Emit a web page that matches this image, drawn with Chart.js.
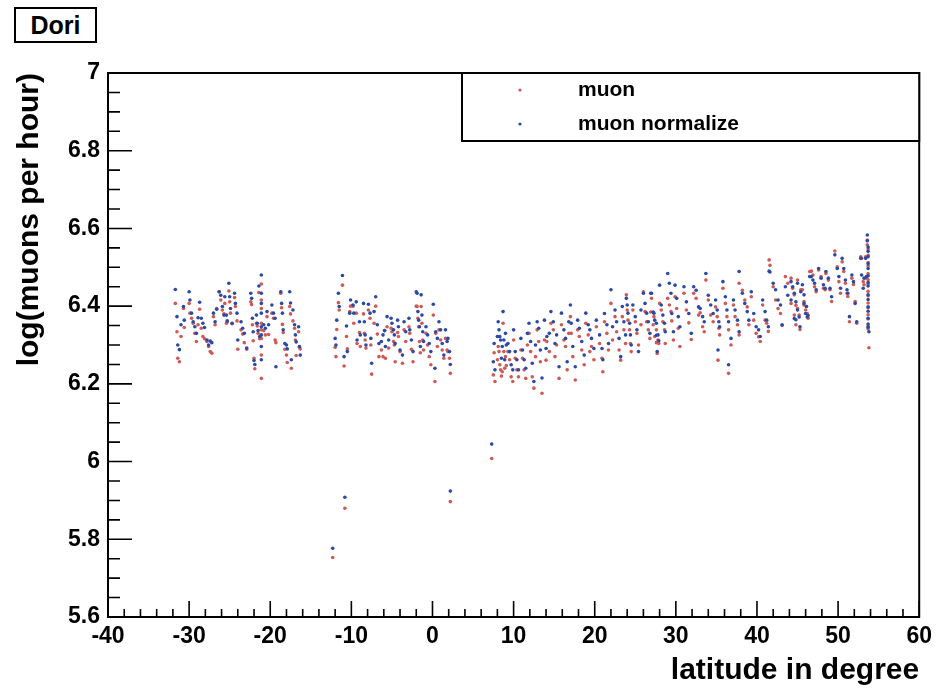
<!DOCTYPE html>
<html lang="en">
<head>
<meta charset="UTF-8">
<title>Dori - muons vs latitude</title>
<script src="https://cdn.jsdelivr.net/npm/chart.js@4.4.0/dist/chart.umd.min.js"></script>
<style>
    body { margin: 0; background: #fff; }
    #wrap { position: relative; width: 938px; height: 690px; }
    #dori {
        position: absolute; left: 14px; top: 7px; width: 79px; height: 32px;
        border: 2px solid #000; background: #fff;
        font: bold 25px "Liberation Sans", Arial, sans-serif;
        line-height: 32px; text-align: center; color: #000;
    }
</style>
</head>
<body>
<div id="wrap">
    <canvas id="chart"></canvas>
    <div id="dori">Dori</div>
</div>
<script>
// tick values for both axes
const xTicks = [-40, -30, -20, -10, 0, 10, 20, 30, 40, 50, 60];
const yTicks = [5.6, 5.8, 6.0, 6.2, 6.4, 6.6, 6.8, 7.0];

// rows: [latitude, log(muon), log(muon normalize)]
const southBand = [
    [-31.7, 6.407, 6.443], [-31.5, 6.334, 6.373], [-31.4, 6.266, 6.300], [-31.2, 6.257, 6.288],
    [-31.0, 6.322, 6.352], [-30.7, 6.394, 6.399], [-30.6, 6.345, 6.364], [-30.0, 6.407, 6.437],
    [-29.9, 6.382, 6.416], [-29.7, 6.369, 6.382], [-29.5, 6.356, 6.360], [-29.3, 6.330, 6.347],
    [-29.1, 6.309, 6.330], [-28.9, 6.352, 6.370], [-28.7, 6.392, 6.410], [-28.5, 6.343, 6.369],
    [-28.3, 6.322, 6.356], [-28.1, 6.316, 6.345], [-27.8, 6.309, 6.313], [-27.6, 6.296, 6.300],
    [-27.4, 6.283, 6.310], [-27.2, 6.279, 6.306], [-27.0, 6.373, 6.382], [-26.8, 6.352, 6.360],
    [-26.6, 6.394, 6.392], [-26.3, 6.437, 6.437], [-26.1, 6.416, 6.428], [-25.9, 6.390, 6.399],
    [-25.7, 6.380, 6.377], [-25.6, 6.407, 6.424], [-25.4, 6.356, 6.377], [-25.3, 6.360, 6.362],
    [-25.1, 6.439, 6.459], [-25.0, 6.411, 6.424], [-24.9, 6.382, 6.394], [-24.7, 6.355, 6.356],
    [-24.4, 6.422, 6.433], [-24.3, 6.399, 6.407], [-24.1, 6.362, 6.382], [-24.0, 6.289, 6.313],
    [-23.6, 6.339, 6.360], [-23.4, 6.328, 6.343], [-23.2, 6.306, 6.330], [-22.9, 6.289, 6.292],
    [-22.4, 6.411, 6.433], [-22.3, 6.404, 6.420], [-22.2, 6.352, 6.369], [-22.1, 6.311, 6.334],
    [-22.0, 6.266, 6.260], [-21.9, 6.239, 6.250], [-21.7, 6.356, 6.377], [-21.6, 6.349, 6.356],
    [-21.5, 6.330, 6.337], [-21.4, 6.435, 6.452], [-21.3, 6.316, 6.322], [-21.1, 6.457, 6.480],
    [-21.1, 6.416, 6.433], [-21.1, 6.394, 6.407], [-21.1, 6.356, 6.382], [-21.1, 6.339, 6.347],
    [-21.1, 6.317, 6.326], [-21.1, 6.274, 6.296], [-21.1, 6.214, 6.262], [-20.8, 6.337, 6.352],
    [-20.6, 6.326, 6.343], [-20.4, 6.373, 6.386], [-20.2, 6.327, 6.352], [-19.8, 6.382, 6.403],
    [-19.6, 6.369, 6.382], [-19.4, 6.313, 6.369], [-19.3, 6.306, 6.244], [-18.7, 6.433, 6.437],
    [-18.6, 6.396, 6.407], [-18.5, 6.353, 6.382], [-18.4, 6.332, 6.339], [-18.2, 6.289, 6.304],
    [-18.0, 6.274, 6.300], [-17.9, 6.255, 6.290], [-17.6, 6.399, 6.437], [-17.5, 6.380, 6.408],
    [-17.4, 6.240, 6.262], [-17.2, 6.362, 6.390], [-17.0, 6.343, 6.352], [-16.9, 6.313, 6.326],
    [-16.8, 6.273, 6.308], [-16.5, 6.334, 6.347], [-16.4, 6.294, 6.296], [-16.3, 6.290, 6.274]
];

const equatorBand = [
    [-12.0, 6.294, 6.317], [-11.9, 6.270, 6.300], [-11.8, 6.340, 6.364], [-11.6, 6.409, 6.433],
    [-11.5, 6.390, 6.399], [-11.1, 6.454, 6.479], [-10.9, 6.246, 6.270], [-10.6, 6.322, 6.349],
    [-10.5, 6.290, 6.283], [-10.2, 6.386, 6.382], [-10.1, 6.400, 6.416], [-9.8, 6.400, 6.403],
    [-9.7, 6.356, 6.382], [-9.4, 6.382, 6.411], [-9.3, 6.304, 6.313], [-9.0, 6.332, 6.360],
    [-8.9, 6.296, 6.326], [-8.5, 6.380, 6.407], [-8.4, 6.330, 6.360], [-8.3, 6.313, 6.326],
    [-8.2, 6.292, 6.300], [-7.9, 6.390, 6.405], [-7.7, 6.369, 6.382], [-7.6, 6.300, 6.317],
    [-7.5, 6.225, 6.253], [-7.2, 6.356, 6.386], [-7.0, 6.400, 6.424], [-6.8, 6.328, 6.352],
    [-6.6, 6.270, 6.304], [-6.3, 6.287, 6.309], [-6.1, 6.270, 6.326], [-5.9, 6.337, 6.337],
    [-5.8, 6.266, 6.296], [-5.6, 6.347, 6.373], [-5.4, 6.292, 6.313], [-5.1, 6.343, 6.369],
    [-5.0, 6.334, 6.356], [-4.8, 6.309, 6.339], [-4.7, 6.300, 6.326], [-4.6, 6.257, 6.304],
    [-4.3, 6.332, 6.364], [-4.2, 6.322, 6.347], [-4.0, 6.283, 6.287], [-3.7, 6.253, 6.274],
    [-3.5, 6.339, 6.360], [-3.3, 6.309, 6.334], [-2.9, 6.347, 6.369], [-2.8, 6.330, 6.339],
    [-2.6, 6.289, 6.313], [-2.4, 6.257, 6.283], [-2.0, 6.400, 6.437], [-1.9, 6.399, 6.433],
    [-1.8, 6.369, 6.386], [-1.7, 6.347, 6.364], [-1.6, 6.309, 6.347], [-1.5, 6.280, 6.296],
    [-1.4, 6.399, 6.429], [-1.3, 6.356, 6.377], [-1.2, 6.313, 6.334], [-1.1, 6.287, 6.309],
    [-0.8, 6.330, 6.347], [-0.6, 6.300, 6.326], [-0.4, 6.270, 6.304], [-0.2, 6.249, 6.283],
    [0.1, 6.377, 6.405], [0.3, 6.206, 6.240], [0.4, 6.330, 6.334], [0.6, 6.296, 6.317],
    [0.8, 6.339, 6.360], [1.0, 6.313, 6.339], [1.2, 6.287, 6.304], [1.4, 6.266, 6.274],
    [1.6, 6.317, 6.339], [1.8, 6.287, 6.309], [1.9, 6.283, 6.317], [2.1, 6.266, 6.283],
    [2.2, 6.227, 6.250]
];

const lowOutliers = [
    [-12.3, 5.753, 5.777], [-10.8, 5.880, 5.908], [2.2, 5.897, 5.924], [7.3, 6.008, 6.045]
];

const northBandLow = [
    [7.5, 6.223, 6.257], [7.6, 6.280, 6.304], [7.7, 6.206, 6.236], [8.0, 6.262, 6.322],
    [8.1, 6.296, 6.360], [8.2, 6.283, 6.339], [8.3, 6.249, 6.322], [8.4, 6.236, 6.313],
    [8.5, 6.220, 6.266], [8.6, 6.231, 6.296], [8.7, 6.356, 6.386], [8.8, 6.283, 6.313],
    [8.9, 6.240, 6.262], [9.0, 6.270, 6.330], [9.1, 6.247, 6.300], [9.3, 6.283, 6.304],
    [9.5, 6.262, 6.283], [9.7, 6.218, 6.249], [9.9, 6.206, 6.236], [10.0, 6.313, 6.339],
    [10.2, 6.266, 6.283], [10.4, 6.236, 6.262], [10.6, 6.218, 6.236], [10.9, 6.287, 6.317],
    [11.1, 6.266, 6.287], [11.3, 6.236, 6.262], [11.5, 6.214, 6.240], [11.7, 6.300, 6.330],
    [11.9, 6.330, 6.356], [12.1, 6.283, 6.309], [12.3, 6.218, 6.253], [12.5, 6.189, 6.206],
    [12.7, 6.270, 6.300], [12.9, 6.339, 6.360], [13.1, 6.309, 6.343], [13.3, 6.257, 6.287],
    [13.5, 6.176, 6.215], [13.8, 6.313, 6.364], [14.0, 6.261, 6.291], [14.1, 6.309, 6.322],
    [14.4, 6.283, 6.330], [14.6, 6.356, 6.386], [14.9, 6.339, 6.360], [15.1, 6.270, 6.304],
    [15.3, 6.300, 6.326], [15.6, 6.214, 6.244], [15.9, 6.352, 6.382], [16.2, 6.313, 6.339],
    [16.4, 6.296, 6.317], [16.6, 6.236, 6.257], [16.8, 6.330, 6.360], [17.0, 6.373, 6.403],
    [17.1, 6.330, 6.356], [17.3, 6.270, 6.296], [17.6, 6.210, 6.244], [17.9, 6.339, 6.364],
    [18.1, 6.322, 6.343], [18.4, 6.287, 6.309], [18.7, 6.249, 6.274], [18.9, 6.356, 6.382],
    [19.2, 6.326, 6.352], [19.4, 6.283, 6.339], [19.6, 6.296, 6.317], [19.9, 6.262, 6.291],
    [20.2, 6.347, 6.364], [20.6, 6.304, 6.326], [20.9, 6.266, 6.291], [21.0, 6.231, 6.262],
    [21.2, 6.360, 6.381], [21.5, 6.330, 6.352], [21.7, 6.287, 6.304], [22.0, 6.407, 6.442],
    [22.2, 6.313, 6.347], [22.5, 6.373, 6.390], [22.7, 6.334, 6.360], [23.0, 6.287, 6.317],
    [23.2, 6.261, 6.270], [23.4, 6.373, 6.399], [23.6, 6.339, 6.360], [23.8, 6.304, 6.326],
    [23.9, 6.429, 6.420], [24.0, 6.390, 6.403], [24.1, 6.364, 6.382], [24.3, 6.339, 6.356],
    [24.4, 6.304, 6.326], [24.5, 6.283, 6.300], [24.7, 6.390, 6.403], [25.0, 6.360, 6.373],
    [25.2, 6.330, 6.339], [25.4, 6.300, 6.283], [25.7, 6.352, 6.390], [26.0, 6.437, 6.433],
    [26.2, 6.386, 6.407], [26.4, 6.360, 6.382], [26.6, 6.339, 6.360], [26.8, 6.317, 6.330],
    [27.0, 6.420, 6.433], [27.3, 6.373, 6.382], [27.6, 6.339, 6.356], [27.8, 6.313, 6.326],
    [27.9, 6.304, 6.311]
];

const northBandMid = [
    [26.9, 6.385, 6.433], [27.2, 6.352, 6.385], [27.4, 6.322, 6.364], [27.6, 6.306, 6.325],
    [27.7, 6.278, 6.283], [28.0, 6.407, 6.454], [28.2, 6.390, 6.403], [28.4, 6.360, 6.377],
    [28.6, 6.339, 6.356], [28.7, 6.304, 6.334], [29.0, 6.420, 6.484], [29.2, 6.403, 6.459],
    [29.4, 6.386, 6.433], [29.5, 6.362, 6.381], [29.7, 6.313, 6.334], [29.9, 6.424, 6.454],
    [30.1, 6.394, 6.420], [30.3, 6.343, 6.373], [30.5, 6.296, 6.347], [31.0, 6.433, 6.450],
    [31.3, 6.390, 6.411], [31.6, 6.357, 6.381], [31.9, 6.314, 6.330], [32.2, 6.433, 6.450],
    [32.5, 6.420, 6.441], [32.8, 6.377, 6.398], [33.0, 6.383, 6.394], [33.3, 6.347, 6.373],
    [33.5, 6.334, 6.360], [33.7, 6.467, 6.484], [34.0, 6.416, 6.428], [34.3, 6.377, 6.403],
    [34.6, 6.360, 6.381], [34.9, 6.398, 6.416], [35.1, 6.373, 6.390], [35.3, 6.343, 6.360],
    [35.4, 6.326, 6.347], [35.2, 6.261, 6.287], [35.8, 6.446, 6.463], [36.1, 6.407, 6.424],
    [36.3, 6.373, 6.390], [36.5, 6.339, 6.360], [36.5, 6.227, 6.249], [36.8, 6.300, 6.317],
    [37.1, 6.403, 6.416], [37.3, 6.373, 6.390], [37.6, 6.352, 6.364], [37.8, 6.326, 6.334],
    [37.8, 6.459, 6.489], [38.2, 6.441, 6.433], [38.5, 6.416, 6.407], [38.8, 6.398, 6.386],
    [39.0, 6.352, 6.364], [39.3, 6.424, 6.437], [39.6, 6.364, 6.381], [39.9, 6.330, 6.347],
    [40.2, 6.321, 6.339], [40.4, 6.309, 6.322], [40.7, 6.403, 6.416], [41.0, 6.364, 6.386],
    [41.2, 6.356, 6.364], [41.4, 6.335, 6.347], [41.5, 6.519, 6.490], [41.6, 6.505, 6.488],
    [42.0, 6.450, 6.459], [42.3, 6.416, 6.442], [42.6, 6.394, 6.416], [42.9, 6.381, 6.403],
    [43.1, 6.350, 6.352], [43.5, 6.476, 6.450], [43.8, 6.459, 6.428], [44.2, 6.407, 6.416],
    [44.6, 6.377, 6.368], [44.8, 6.352, 6.365], [45.0, 6.467, 6.459], [45.4, 6.442, 6.437],
    [45.8, 6.403, 6.407], [46.0, 6.390, 6.381], [46.2, 6.381, 6.372], [46.5, 6.489, 6.476]
];

const northBandHigh = [
    [44.2, 6.472, 6.463], [44.4, 6.446, 6.450], [44.6, 6.429, 6.433], [44.8, 6.402, 6.411],
    [45.0, 6.394, 6.390], [45.2, 6.377, 6.372], [45.3, 6.340, 6.347], [45.6, 6.442, 6.455],
    [45.8, 6.412, 6.429], [46.1, 6.399, 6.399], [46.3, 6.369, 6.376], [46.7, 6.490, 6.476],
    [46.9, 6.480, 6.467], [47.1, 6.450, 6.459], [47.3, 6.437, 6.442], [47.6, 6.493, 6.497],
    [47.9, 6.476, 6.472], [48.2, 6.446, 6.455], [48.4, 6.442, 6.446], [48.5, 6.484, 6.489],
    [48.8, 6.467, 6.472], [49.0, 6.442, 6.446], [49.2, 6.412, 6.424], [49.6, 6.542, 6.532],
    [49.9, 6.501, 6.497], [50.1, 6.463, 6.476], [50.3, 6.433, 6.446], [50.5, 6.514, 6.523],
    [50.7, 6.489, 6.497], [50.9, 6.459, 6.467], [51.1, 6.433, 6.442], [51.2, 6.425, 6.433],
    [51.4, 6.360, 6.373], [51.7, 6.472, 6.480], [51.9, 6.456, 6.463], [52.1, 6.412, 6.407],
    [52.3, 6.356, 6.360], [52.8, 6.527, 6.523], [52.9, 6.523, 6.480], [53.1, 6.463, 6.446],
    [53.2, 6.455, 6.472], [53.4, 6.527, 6.523], [53.5, 6.472, 6.476], [53.6, 6.570, 6.583],
    [53.6, 6.558, 6.568], [53.7, 6.547, 6.552], [53.7, 6.531, 6.541], [53.7, 6.512, 6.527],
    [53.7, 6.503, 6.509], [53.7, 6.484, 6.497], [53.7, 6.468, 6.478], [53.7, 6.457, 6.461],
    [53.7, 6.438, 6.452], [53.7, 6.427, 6.429], [53.7, 6.408, 6.417], [53.7, 6.396, 6.398],
    [53.7, 6.378, 6.387], [53.7, 6.367, 6.369], [53.7, 6.349, 6.354], [53.7, 6.341, 6.346],
    [53.8, 6.293, 6.334]
];

const allRows = southBand.concat(equatorBand, lowOutliers, northBandLow, northBandMid, northBandHigh);
const muonPoints = allRows.map(r => ({ x: r[0], y: r[1] }));
const normPoints = allRows.map(r => ({ x: r[0], y: r[2] }));

const FONT = '"Liberation Sans", Arial, sans-serif';
const RED = '#cf5a55';
const BLUE = '#2b49a6';

// frame plus ROOT style inward ticks, positions come from the scales
const frameTicks = {
    id: 'frameTicks',
    afterDatasetsDraw(chart) {
        const { ctx, chartArea: a, scales: { x, y } } = chart;
        ctx.save();
        ctx.strokeStyle = '#000';
        ctx.lineWidth = 1.6;
        ctx.beginPath();
        for (let i = 0; i < xTicks.length; i++) {
            const px = x.getPixelForValue(xTicks[i]);
            ctx.moveTo(px, a.bottom); ctx.lineTo(px, a.bottom - 16);
            if (i < xTicks.length - 1) {
                const step = (xTicks[i + 1] - xTicks[i]) / 5;
                for (let k = 1; k < 5; k++) {
                    const mx = x.getPixelForValue(xTicks[i] + k * step);
                    ctx.moveTo(mx, a.bottom); ctx.lineTo(mx, a.bottom - 8);
                }
            }
        }
        for (let i = 0; i < yTicks.length; i++) {
            const py = y.getPixelForValue(yTicks[i]);
            ctx.moveTo(a.left, py); ctx.lineTo(a.left + 24, py);
            if (i < yTicks.length - 1) {
                const step = (yTicks[i + 1] - yTicks[i]) / 4;
                for (let k = 1; k < 4; k++) {
                    const my = y.getPixelForValue(yTicks[i] + k * step);
                    ctx.moveTo(a.left, my); ctx.lineTo(a.left + 12, my);
                }
            }
        }
        ctx.stroke();
        ctx.lineWidth = 2;
        ctx.strokeRect(a.left, a.top, a.right - a.left, a.bottom - a.top);
        ctx.restore();
    },
    afterDraw(chart) {
        // legend box in the upper right corner
        const { ctx, chartArea: a } = chart;
        const bx = 462, by = a.top, bw = a.right - 462, bh = 68;
        ctx.save();
        ctx.fillStyle = '#fff';
        ctx.fillRect(bx, by, bw, bh);
        ctx.strokeStyle = '#000';
        ctx.lineWidth = 2;
        ctx.strokeRect(bx, by, bw, bh);
        ctx.font = 'bold 21px ' + FONT;
        ctx.textBaseline = 'middle';
        chart.data.datasets.slice().sort((p, q) => p.legendRank - q.legendRank).forEach((ds, i) => {
            const cy = by + 17 + i * 34;
            ctx.fillStyle = ds.backgroundColor;
            ctx.beginPath();
            ctx.arc(520, cy, 1.6, 0, Math.PI * 2);
            ctx.fill();
            ctx.fillStyle = '#000';
            ctx.fillText(ds.label, 578, cy);
        });
        ctx.restore();
    }
};

new Chart(document.getElementById('chart'), {
    type: 'scatter',
    data: {
        datasets: [
            { label: 'muon normalize', data: normPoints, backgroundColor: BLUE, borderWidth: 0, pointRadius: 1.8, order: 0, legendRank: 1 },
            { label: 'muon', data: muonPoints, backgroundColor: RED, borderWidth: 0, pointRadius: 1.8, order: 1, legendRank: 0 }
        ]
    },
    options: {
        responsive: true,
        maintainAspectRatio: false,
        animation: false,
        layout: { padding: { top: 73, right: 18, left: 0, bottom: 0 } },
        plugins: { legend: { display: false }, tooltip: { enabled: false } },
        scales: {
            x: {
                type: 'linear', min: -40, max: 60,
                afterBuildTicks: s => { s.ticks = xTicks.map(v => ({ value: v })); },
                afterFit: s => { s.height = 73; },
                grid: { display: false, drawTicks: false },
                border: { display: false },
                ticks: { padding: 6, color: '#000', font: { family: FONT, size: 23, weight: 'bold' }, maxRotation: 0 },
                title: { display: true, text: 'latitude in degree', align: 'end', color: '#000',
                         font: { family: FONT, size: 30, weight: 'bold' }, padding: { top: 0, bottom: 1 } }
            },
            y: {
                type: 'linear', min: 5.6, max: 7,
                afterBuildTicks: s => { s.ticks = yTicks.map(v => ({ value: v })); },
                afterFit: s => { s.width = 108; },
                grid: { display: false, drawTicks: false },
                border: { display: false },
                ticks: { padding: 8, color: '#000', font: { family: FONT, size: 23, weight: 'bold' },
                         callback: v => String(Number(v.toFixed(1))) },
                title: { display: true, text: 'log(muons per hour)', align: 'end', color: '#000',
                         font: { family: FONT, size: 30, weight: 'bold' }, padding: { top: 12, bottom: 0 } }
            }
        }
    },
    plugins: [frameTicks]
});
</script>
</body>
</html>
